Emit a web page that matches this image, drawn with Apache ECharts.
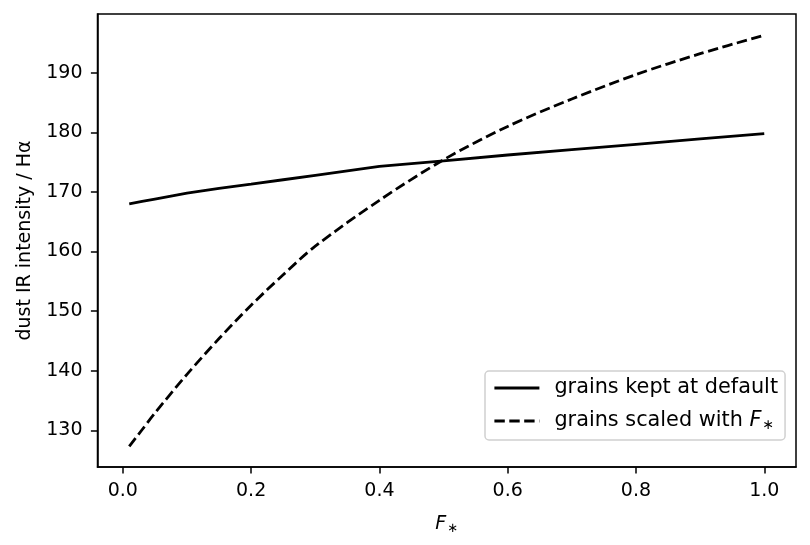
<!DOCTYPE html>
<html>
<head>
<meta charset="utf-8">
<script src="https://cdn.jsdelivr.net/npm/echarts@6/dist/echarts.min.js"></script>
<style>
  html, body { margin: 0; padding: 0; background: #fff; }
  #chart { width: 810px; height: 545px; }
</style>
</head>
<body>
<div id="chart"></div>
<script>
// F* values (x) and dust IR / Halpha for the two grain treatments
var fStar = [0.01, 0.03, 0.05, 0.1, 0.15, 0.2, 0.25, 0.3, 0.4, 0.5, 0.6, 0.7, 0.8, 0.9, 1.0];
var keptDefault = [168.0, 168.4, 168.8, 169.8, 170.6, 171.3, 172.05, 172.8, 174.3, 175.2, 176.2, 177.1, 178.0, 178.9, 179.8];
var scaledWithF = [127.3, 130.1, 132.9, 139.4, 145.4, 151.0, 156.1, 160.9, 168.6, 175.4, 181.0, 185.6, 189.7, 193.2, 196.3];
var xTicks = [0, 0.2, 0.4, 0.6, 0.8, 1.0];
var yTicks = [130, 140, 150, 160, 170, 180, 190];

var FONT = 'DejaVu Sans';
var FS = 19;
var LFS = 20.8;

function pairs(xs, ys) {
    return xs.map(function (x, i) { return [x, ys[i]]; });
}

var chart = echarts.init(document.getElementById('chart'));

var option = {
    backgroundColor: '#fff',
    animation: false,
    textStyle: { fontFamily: FONT, color: '#000' },
    grid: {
        left: 97.5, right: 14, top: 14, bottom: 78,
        show: true, borderColor: '#000', borderWidth: 1.5, backgroundColor: '#fff'
    },
    legend: {
        orient: 'vertical',
        left: 485, top: 371,
        padding: [6, 7, 8, 8],
        itemGap: 11,
        itemWidth: 45,
        itemHeight: 14,
        backgroundColor: '#fff',
        borderColor: '#d0d0d0',
        borderWidth: 1.5,
        borderRadius: 4,
        itemStyle: { opacity: 0 },
        lineStyle: { width: 2.8 },
        data: ['grains kept at default', 'grains scaled with F*'],
        formatter: function (name) {
            if (name === 'grains scaled with F*') return 'grains scaled with {i|F}{s|∗}';
            return name;
        },
        textStyle: {
            fontFamily: FONT, fontSize: LFS, color: '#000', lineHeight: 22,
            padding: [0, 0, 0, 10],
            rich: {
                i: { fontFamily: FONT, fontSize: LFS, fontStyle: 'italic', color: '#000', lineHeight: 22 },
                s: { fontFamily: FONT, fontSize: 14, color: '#000', padding: [8, 0, 0, 1], lineHeight: 22 }
            }
        }
    },
    xAxis: {
        type: 'value',
        min: -0.0395, max: 1.0495,
        name: '{i|F}{s|∗}',
        nameLocation: 'middle',
        nameGap: 47,
        nameTextStyle: {
            rich: {
                i: { fontFamily: FONT, fontSize: FS, fontStyle: 'italic', color: '#000' },
                s: { fontFamily: FONT, fontSize: 13, color: '#000', padding: [8, 0, 0, 1] }
            }
        },
        axisLine: { show: true, onZero: false, lineStyle: { color: '#000', width: 1.5 } },
        axisTick: { show: true, length: 6.6, lineStyle: { color: '#000', width: 1.5 }, customValues: xTicks },
        axisLabel: {
            fontFamily: FONT, fontSize: FS, color: '#000', margin: 15,
            customValues: xTicks,
            formatter: function (v) { return v.toFixed(1); }
        },
        splitLine: { show: false }
    },
    yAxis: {
        type: 'value',
        min: 123.85, max: 199.86,
        name: 'dust IR intensity / Hα',
        nameLocation: 'middle',
        nameGap: 63,
        nameTextStyle: { fontFamily: FONT, fontSize: FS, color: '#000' },
        axisLine: { show: true, onZero: false, lineStyle: { color: '#000', width: 1.5 } },
        axisTick: { show: true, length: 6.6, lineStyle: { color: '#000', width: 1.5 }, customValues: yTicks },
        axisLabel: {
            fontFamily: FONT, fontSize: FS, color: '#000', margin: 15,
            customValues: yTicks,
            formatter: function (v) { return String(Math.round(v)); }
        },
        splitLine: { show: false }
    },
    series: [
        {
            name: 'grains kept at default',
            type: 'line',
            data: pairs(fStar, keptDefault),
            symbol: 'none',
            lineStyle: { color: '#000', width: 2.8, type: 'solid' },
            itemStyle: { color: '#000' }
        },
        {
            name: 'grains scaled with F*',
            type: 'line',
            data: pairs(fStar, scaledWithF),
            symbol: 'none',
            smooth: 0.3,
            lineStyle: { color: '#000', width: 2.8, type: [10.4, 4.5] },
            itemStyle: { color: '#000' }
        }
    ]
};

chart.setOption(option);
</script>
</body>
</html>
